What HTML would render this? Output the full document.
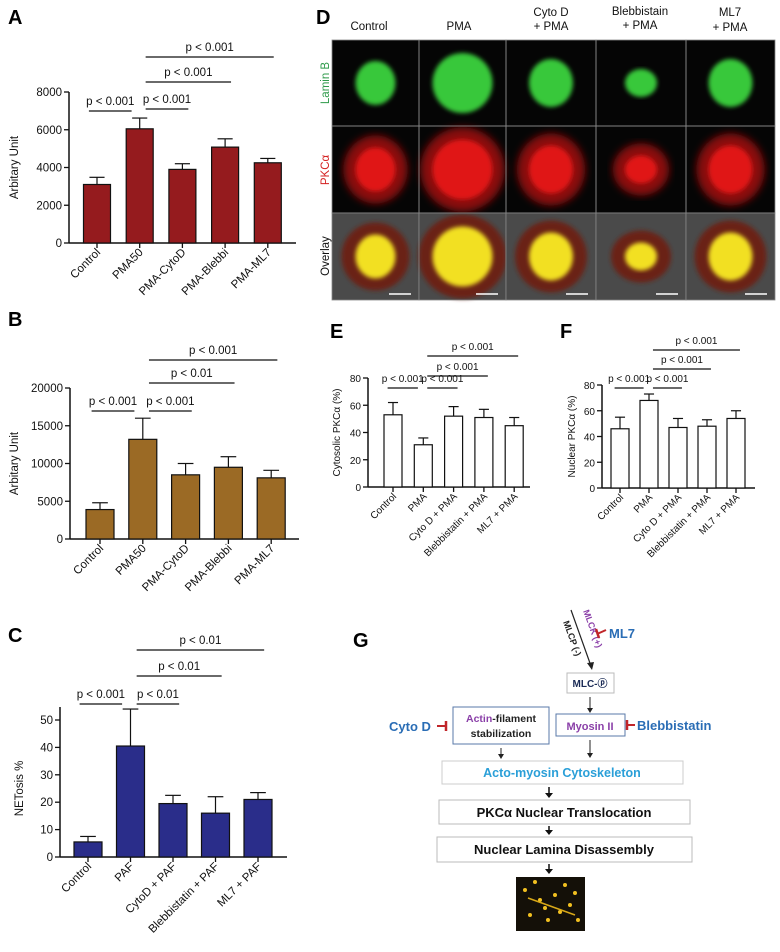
<!DOCTYPE html>
<html><head><meta charset="utf-8"><style>
html,body{margin:0;padding:0;background:#fff}
svg{display:block;font-family:"Liberation Sans",Arial,sans-serif}
</style></head><body>
<svg id="fig" width="780" height="952" viewBox="0 0 780 952" xmlns="http://www.w3.org/2000/svg">
<defs>
<filter id="bl2"><feGaussianBlur stdDeviation="2"/></filter>
<filter id="bl4"><feGaussianBlur stdDeviation="4"/></filter>
</defs>
<g font-weight="bold" font-size="20">
<text x="8" y="24">A</text>
<text x="8" y="326">B</text>
<text x="8" y="642">C</text>
<text x="316" y="24">D</text>
<text x="330" y="338">E</text>
<text x="560" y="338">F</text>
<text x="353" y="647">G</text>
</g>

<g id="panelD">
<g font-size="11.5" text-anchor="middle" fill="#111">
<text x="369" y="30">Control</text>
<text x="459" y="30">PMA</text>
<text x="551" y="16">Cyto D</text>
<text x="551" y="30">+ PMA</text>
<text x="640" y="15">Blebbistain</text>
<text x="640" y="29">+ PMA</text>
<text x="730" y="16">ML7</text>
<text x="730" y="31">+ PMA</text>
</g>
<g font-size="11.5" text-anchor="middle">
<text transform="translate(329,83) rotate(-90)" fill="#2e9a4a">Lamin B</text>
<text transform="translate(329,170) rotate(-90)" fill="#d42020">PKCα</text>
<text transform="translate(329,256) rotate(-90)" fill="#111">Overlay</text>
</g>
<rect x="332" y="40" width="443" height="260" fill="#050505"/>
<g id="cells"></g>
</g>

<g id="panelG" font-weight="bold">
<line x1="571" y1="610" x2="591" y2="666" stroke="#222" stroke-width="1.2"/>
<polygon points="592,670 587,663 594,662" fill="#222"/>
<text transform="translate(563,622) rotate(70)" font-size="9" fill="#222">MLCP (-)</text>
<text transform="translate(583,611) rotate(70)" font-size="9" fill="#8a3fa8">MLCK (+)</text>
<line x1="597" y1="634" x2="606" y2="630" stroke="#c0262a" stroke-width="2"/>
<line x1="596" y1="629" x2="599" y2="638" stroke="#c0262a" stroke-width="2.5"/>
<text x="609" y="638" font-size="13" fill="#2a6db5">ML7</text>
<rect x="567" y="673" width="47" height="20" fill="#fff" stroke="#bbb"/>
<text x="590" y="687" font-size="10" fill="#1a2a55" text-anchor="middle">MLC-ⓟ</text>
<line x1="590" y1="697" x2="590" y2="709" stroke="#222"/><polygon points="587,708 593,708 590,713" fill="#222"/>
<rect x="556" y="714" width="69" height="22" fill="#fff" stroke="#5a7aa8"/>
<text x="590" y="730" font-size="11" fill="#8a3fa8" text-anchor="middle">Myosin II</text>
<line x1="627" y1="725" x2="635" y2="725" stroke="#c0262a" stroke-width="2"/><line x1="627" y1="720" x2="627" y2="730" stroke="#c0262a" stroke-width="2.5"/>
<text x="637" y="730" font-size="13" fill="#2a6db5">Blebbistatin</text>
<rect x="453" y="707" width="96" height="37" fill="#fff" stroke="#5a7aa8"/>
<text x="501" y="722" font-size="10.5" text-anchor="middle"><tspan fill="#8a3fa8">Actin</tspan><tspan fill="#222">-filament</tspan></text>
<text x="501" y="737" font-size="10.5" text-anchor="middle" fill="#222">stabilization</text>
<text x="389" y="731" font-size="13" fill="#2a6db5">Cyto D</text>
<line x1="437" y1="726" x2="446" y2="726" stroke="#c0262a" stroke-width="2"/><line x1="446" y1="721" x2="446" y2="731" stroke="#c0262a" stroke-width="2.5"/>
<line x1="501" y1="748" x2="501" y2="755" stroke="#222"/><polygon points="498,754 504,754 501,759" fill="#222"/>
<line x1="590" y1="740" x2="590" y2="754" stroke="#222"/><polygon points="587,753 593,753 590,758" fill="#222"/>
<rect x="442" y="761" width="241" height="23" fill="#fff" stroke="#ccc"/>
<text x="562" y="777" font-size="12.5" fill="#2a9fd8" text-anchor="middle">Acto-myosin Cytoskeleton</text>
<line x1="549" y1="787" x2="549" y2="794" stroke="#111" stroke-width="1.5"/><polygon points="545,793 553,793 549,798" fill="#111"/>
<rect x="439" y="800" width="251" height="24" fill="#fff" stroke="#bbb"/>
<text x="564" y="817" font-size="13" fill="#111" text-anchor="middle">PKCα Nuclear Translocation</text>
<line x1="549" y1="826" x2="549" y2="831" stroke="#111" stroke-width="1.5"/><polygon points="545,830 553,830 549,835" fill="#111"/>
<rect x="437" y="837" width="255" height="25" fill="#fff" stroke="#bbb"/>
<text x="564" y="854" font-size="13" fill="#111" text-anchor="middle">Nuclear Lamina Disassembly</text>
<line x1="549" y1="864" x2="549" y2="870" stroke="#111" stroke-width="1.5"/><polygon points="545,869 553,869 549,874" fill="#111"/>
<rect x="516" y="877" width="69" height="54" fill="#141008"/>
<g id="netdots"></g>
</g>

<g id="charts"></g>
</svg>
<script>
// ---- Panel A data ----
const catsA = ["Control","PMA50","PMA-CytoD","PMA-Blebbi","PMA-ML7"];
const valsA = [3100,6050,3900,5080,4250];
const errA = [380,570,300,440,230];
const ticksA = [0,2000,4000,6000,8000];
const sigA = [[0,1,"p < 0.001"],[1,2,"p < 0.001"],[1,3,"p < 0.001"],[1,4,"p < 0.001"]];
// ---- Panel B data ----
const catsB = ["Control","PMA50","PMA-CytoD","PMA-Blebbi","PMA-ML7"];
const valsB = [3900,13200,8500,9500,8100];
const errB = [900,2800,1500,1400,1000];
const ticksB = [0,5000,10000,15000,20000];
const sigB = [[0,1,"p < 0.001"],[1,2,"p < 0.001"],[1,3,"p < 0.01"],[1,4,"p < 0.001"]];
// ---- Panel C data ----
const catsC = ["Control","PAF","CytoD + PAF","Blebbistatin + PAF","ML7 + PAF"];
const valsC = [5.5,40.5,19.5,16,21];
const errC = [2,13.5,3,6,2.5];
const ticksC = [0,10,20,30,40,50];
const sigC = [[0,1,"p < 0.001"],[1,2,"p < 0.01"],[1,3,"p < 0.01"],[1,4,"p < 0.01"]];
// ---- Panel E data ----
const catsE = ["Control","PMA","Cyto D + PMA","Blebbistatin + PMA","ML7 + PMA"];
const valsE = [53,31,52,51,45];
const errE = [9,5,7,6,6];
const ticksE = [0,20,40,60,80];
const sigE = [[0,1,"p < 0.001"],[1,2,"p < 0.001"],[1,3,"p < 0.001"],[1,4,"p < 0.001"]];
// ---- Panel F data ----
const catsF = ["Control","PMA","Cyto D + PMA","Blebbistatin + PMA","ML7 + PMA"];
const valsF = [46,68,47,48,54];
const errF = [9,5,7,5,6];
const ticksF = [0,20,40,60,80];
const sigF = [[0,1,"p < 0.001"],[1,2,"p < 0.001"],[1,3,"p < 0.001"],[1,4,"p < 0.001"]];

const NS="http://www.w3.org/2000/svg";
function mk(tag,attrs,parent,txt){const e=document.createElementNS(NS,tag);for(const k in attrs)e.setAttribute(k,attrs[k]);if(txt!=null)e.textContent=txt;parent.appendChild(e);return e;}

function chart(cfg,cats,vals,errs,ticks,sigs){
  const root=document.getElementById('charts');
  const g=mk('g',{},root);
  
  
  const ymax=ticks[ticks.length-1];
  const y=v=>cfg.y0-(cfg.y0-cfg.yTop)*v/ymax;
  const x=i=>cfg.x0+cfg.dx*i;
  const axTop=cfg.axTop!=null?cfg.axTop:cfg.yTop;
  const ya=mk('line',{x1:cfg.ax,y1:axTop,x2:cfg.ax,y2:cfg.y0,stroke:'#111','stroke-width':1.5},g);
  
  
  const xa=mk('line',{x1:cfg.ax,y1:cfg.y0,x2:cfg.axEnd,y2:cfg.y0,stroke:'#111','stroke-width':1.5},g);
  
  
  ticks.forEach(t=>{
    mk('line',{x1:cfg.ax-5,y1:y(t),x2:cfg.ax,y2:y(t),stroke:'#111','stroke-width':1.3},g);
    const tl=mk('text',{x:cfg.ax-7,y:y(t)+4,'font-size':cfg.fs,'text-anchor':'end',fill:'#111'},g,String(t));
    
    
  });
  const yt=mk('text',{transform:`translate(${cfg.ytx},${(cfg.y0+cfg.yTop)/2}) rotate(-90)`,'font-size':cfg.fs,'text-anchor':'middle',fill:'#111'},g,cfg.ytitle);
  
  
  cats.forEach((c,i)=>{
    const cx=x(i), top=y(vals[i]), et=y(vals[i]+errs[i]);
    mk('line',{x1:cx,y1:et,x2:cx,y2:top,stroke:'#111','stroke-width':1.2},g);
    mk('line',{x1:cx-cfg.bw*0.28,y1:et,x2:cx+cfg.bw*0.28,y2:et,stroke:'#111','stroke-width':1.2},g);
    const b=mk('rect',{x:cx-cfg.bw/2,y:top,width:cfg.bw,height:cfg.y0-top,fill:cfg.fill,stroke:'#111','stroke-width':1.2},g);
    
    
    mk('line',{x1:cx,y1:cfg.y0,x2:cx,y2:cfg.y0+5,stroke:'#111','stroke-width':1.3},g);
    const cl=mk('text',{transform:`translate(${cx+4},${cfg.y0+10}) rotate(-45)`,'font-size':cfg.fs,'text-anchor':'end',fill:'#111'},g,c);
    
    
  });
  sigs.forEach((s,k)=>{
    const ly=cfg.sigY[k];
    const off=k===0?-cfg.bw*0.3:cfg.bw*0.22;
    const x1=x(s[0])+off, x2=x(s[1])+off;
    mk('line',{x1:x1,y1:ly,x2:x2,y2:ly,stroke:'#111','stroke-width':1.3},g);
    const st=mk('text',{x:(x1+x2)/2,y:ly-6,'font-size':cfg.fs,'text-anchor':'middle',fill:'#111'},g,s[2]);
    
    
  });
}
chart({name:'chart-a',ax:69,axEnd:296,y0:243,yTop:92,x0:97,dx:42.7,bw:27,fill:'#951b1e',fs:11.5,ytx:18,ytitle:'Arbitary Unit',sigY:[111,109,82,57]},catsA,valsA,errA,ticksA,sigA);
chart({name:'chart-b',ax:70,axEnd:299,y0:539,yTop:388,x0:100,dx:42.8,bw:28,fill:'#9b6a25',fs:11.5,ytx:18,ytitle:'Arbitary Unit',sigY:[411,411,383,360]},catsB,valsB,errB,ticksB,sigB);
chart({name:'chart-c',ax:60,axEnd:287,y0:857,yTop:720,axTop:707,x0:88,dx:42.5,bw:28,fill:'#2a2d8a',fs:11.5,ytx:23,ytitle:'NETosis %',sigY:[704,704,676,650]},catsC,valsC,errC,ticksC,sigC);
chart({name:'chart-e',ax:368,axEnd:530,y0:487,yTop:378,x0:393,dx:30.3,bw:18,fill:'#fff',fs:10,ytx:340,ytitle:'Cytosolic PKCα (%)',sigY:[388,388,376,356]},catsE,valsE,errE,ticksE,sigE);
chart({name:'chart-f',ax:602,axEnd:755,y0:488,yTop:385,x0:620,dx:29,bw:18,fill:'#fff',fs:10,ytx:575,ytitle:'Nuclear PKCα (%)',sigY:[388,388,369,350]},catsF,valsF,errF,ticksF,sigF);

(function(){
  const g=document.getElementById('cells');
  const cols=[332,419,506,596,686,775], rows=[40,126,213,300];
  const sizes=[[20,22],[30,30],[22,24],[16,14],[22,24]];
  for(let c=0;c<5;c++){
    const cx=(cols[c]+cols[c+1])/2, w=cols[c+1]-cols[c];
    for(let r=0;r<3;r++){
      const cy=(rows[r]+rows[r+1])/2;
      if(r===2) mk('rect',{x:cols[c],y:rows[r],width:w,height:rows[r+1]-rows[r],fill:'#4a4a4a'},g);
      const [rx,ry]=sizes[c];
      if(r===0) mk('ellipse',{cx:cx,cy:cy,rx:rx,ry:ry,fill:'#38c83a',filter:'url(#bl2)'},g);
      if(r===1){ mk('ellipse',{cx:cx,cy:cy,rx:rx+12,ry:ry+12,fill:'#8a1010',filter:'url(#bl4)'},g);
                 mk('ellipse',{cx:cx,cy:cy,rx:rx,ry:ry,fill:'#e01818',filter:'url(#bl2)'},g);}
      if(r===2){ mk('ellipse',{cx:cx,cy:cy,rx:rx+14,ry:ry+12,fill:'#6a2418',filter:'url(#bl2)'},g);
                 mk('ellipse',{cx:cx,cy:cy,rx:rx,ry:ry,fill:'#f2e020',filter:'url(#bl2)'},g);
                 mk('line',{x1:cols[c+1]-30,y1:294,x2:cols[c+1]-8,y2:294,stroke:'#fff','stroke-width':1.5},g);}
      mk('rect',{x:cols[c],y:rows[r],width:w,height:rows[r+1]-rows[r],fill:'none',stroke:'#888','stroke-width':0.8},g);
    }
  }
  const n=document.getElementById('netdots');
  const pts=[[525,890],[540,900],[555,895],[570,905],[530,915],[548,920],[565,885],[578,920],[535,882],[560,912],[575,893],[545,908]];
  pts.forEach(p=>mk('circle',{cx:p[0],cy:p[1],r:2,fill:'#f2c020'},n));
  mk('line',{x1:528,y1:898,x2:575,y2:915,stroke:'#d8a818','stroke-width':1.5},n);
})();
</script>
</body></html>
